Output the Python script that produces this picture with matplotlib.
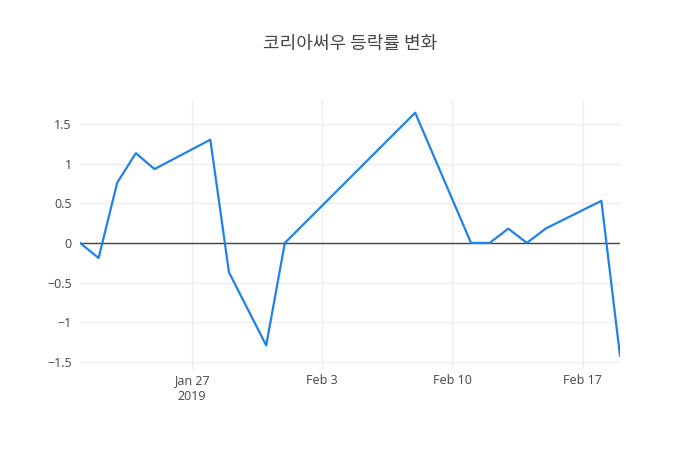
import pandas as pd
import matplotlib.pyplot as plt

# 코리아써우 일별 등락률
dates = ["2019-01-21", "2019-01-22", "2019-01-23", "2019-01-24", "2019-01-25",
         "2019-01-28", "2019-01-29", "2019-01-31", "2019-02-01", "2019-02-08",
         "2019-02-11", "2019-02-12", "2019-02-13", "2019-02-14", "2019-02-15",
         "2019-02-18", "2019-02-19"]
rates = [0, -0.19, 0.76, 1.13, 0.93,
         1.30, -0.37, -1.29, 0, 1.64,
         0, 0, 0.18, 0, 0.18,
         0.53, -1.42]

tick_dates = ["2019-01-27", "2019-02-03", "2019-02-10", "2019-02-17"]
tick_labels = ["Jan 27\n2019", "Feb 3", "Feb 10", "Feb 17"]
y_ticks = [-1.5, -1, -0.5, 0, 0.5, 1, 1.5]
y_labels = ["\u22121.5", "\u22121", "\u22120.5", "0", "0.5", "1", "1.5"]

df = pd.DataFrame({"date": pd.to_datetime(dates), "rate": rates})

plt.rcParams["font.family"] = ["Open Sans", "Noto Sans CJK KR", "DejaVu Sans"]

fig = plt.figure(figsize=(7, 4.5), dpi=100)
ax = fig.add_axes([80 / 700, 80 / 450, 540 / 700, 270 / 450])

ax.plot(df["date"], df["rate"], color="#1f82e6", lw=1.6, zorder=3)
ax.axhline(0, color="#444444", lw=1, zorder=2)

ax.set_xlim(df["date"].iloc[0], df["date"].iloc[-1])
ax.set_ylim(-1.60, 1.80)

ax.set_xticks(pd.to_datetime(tick_dates))
ax.set_xticklabels(tick_labels)
ax.set_yticks(y_ticks)
ax.set_yticklabels(y_labels)

ax.grid(True, color="#eeeeee", lw=1, zorder=0)
ax.set_axisbelow(True)
for s in ax.spines.values():
    s.set_visible(False)
ax.tick_params(length=0, colors="#444444", labelsize=9)
ax.tick_params(axis="x", pad=3)
ax.tick_params(axis="y", pad=6)
for lbl in ax.get_xticklabels():
    lbl.set_linespacing(1.3)

fig.text(0.5, 1 - 44 / 450, "코리아써우 등락률 변화", ha="center", va="center",
         fontsize=13, color="#444444",
         family=["Noto Sans CJK KR", "DejaVu Sans"])

fig.savefig("out.png", dpi=100, facecolor="white")
